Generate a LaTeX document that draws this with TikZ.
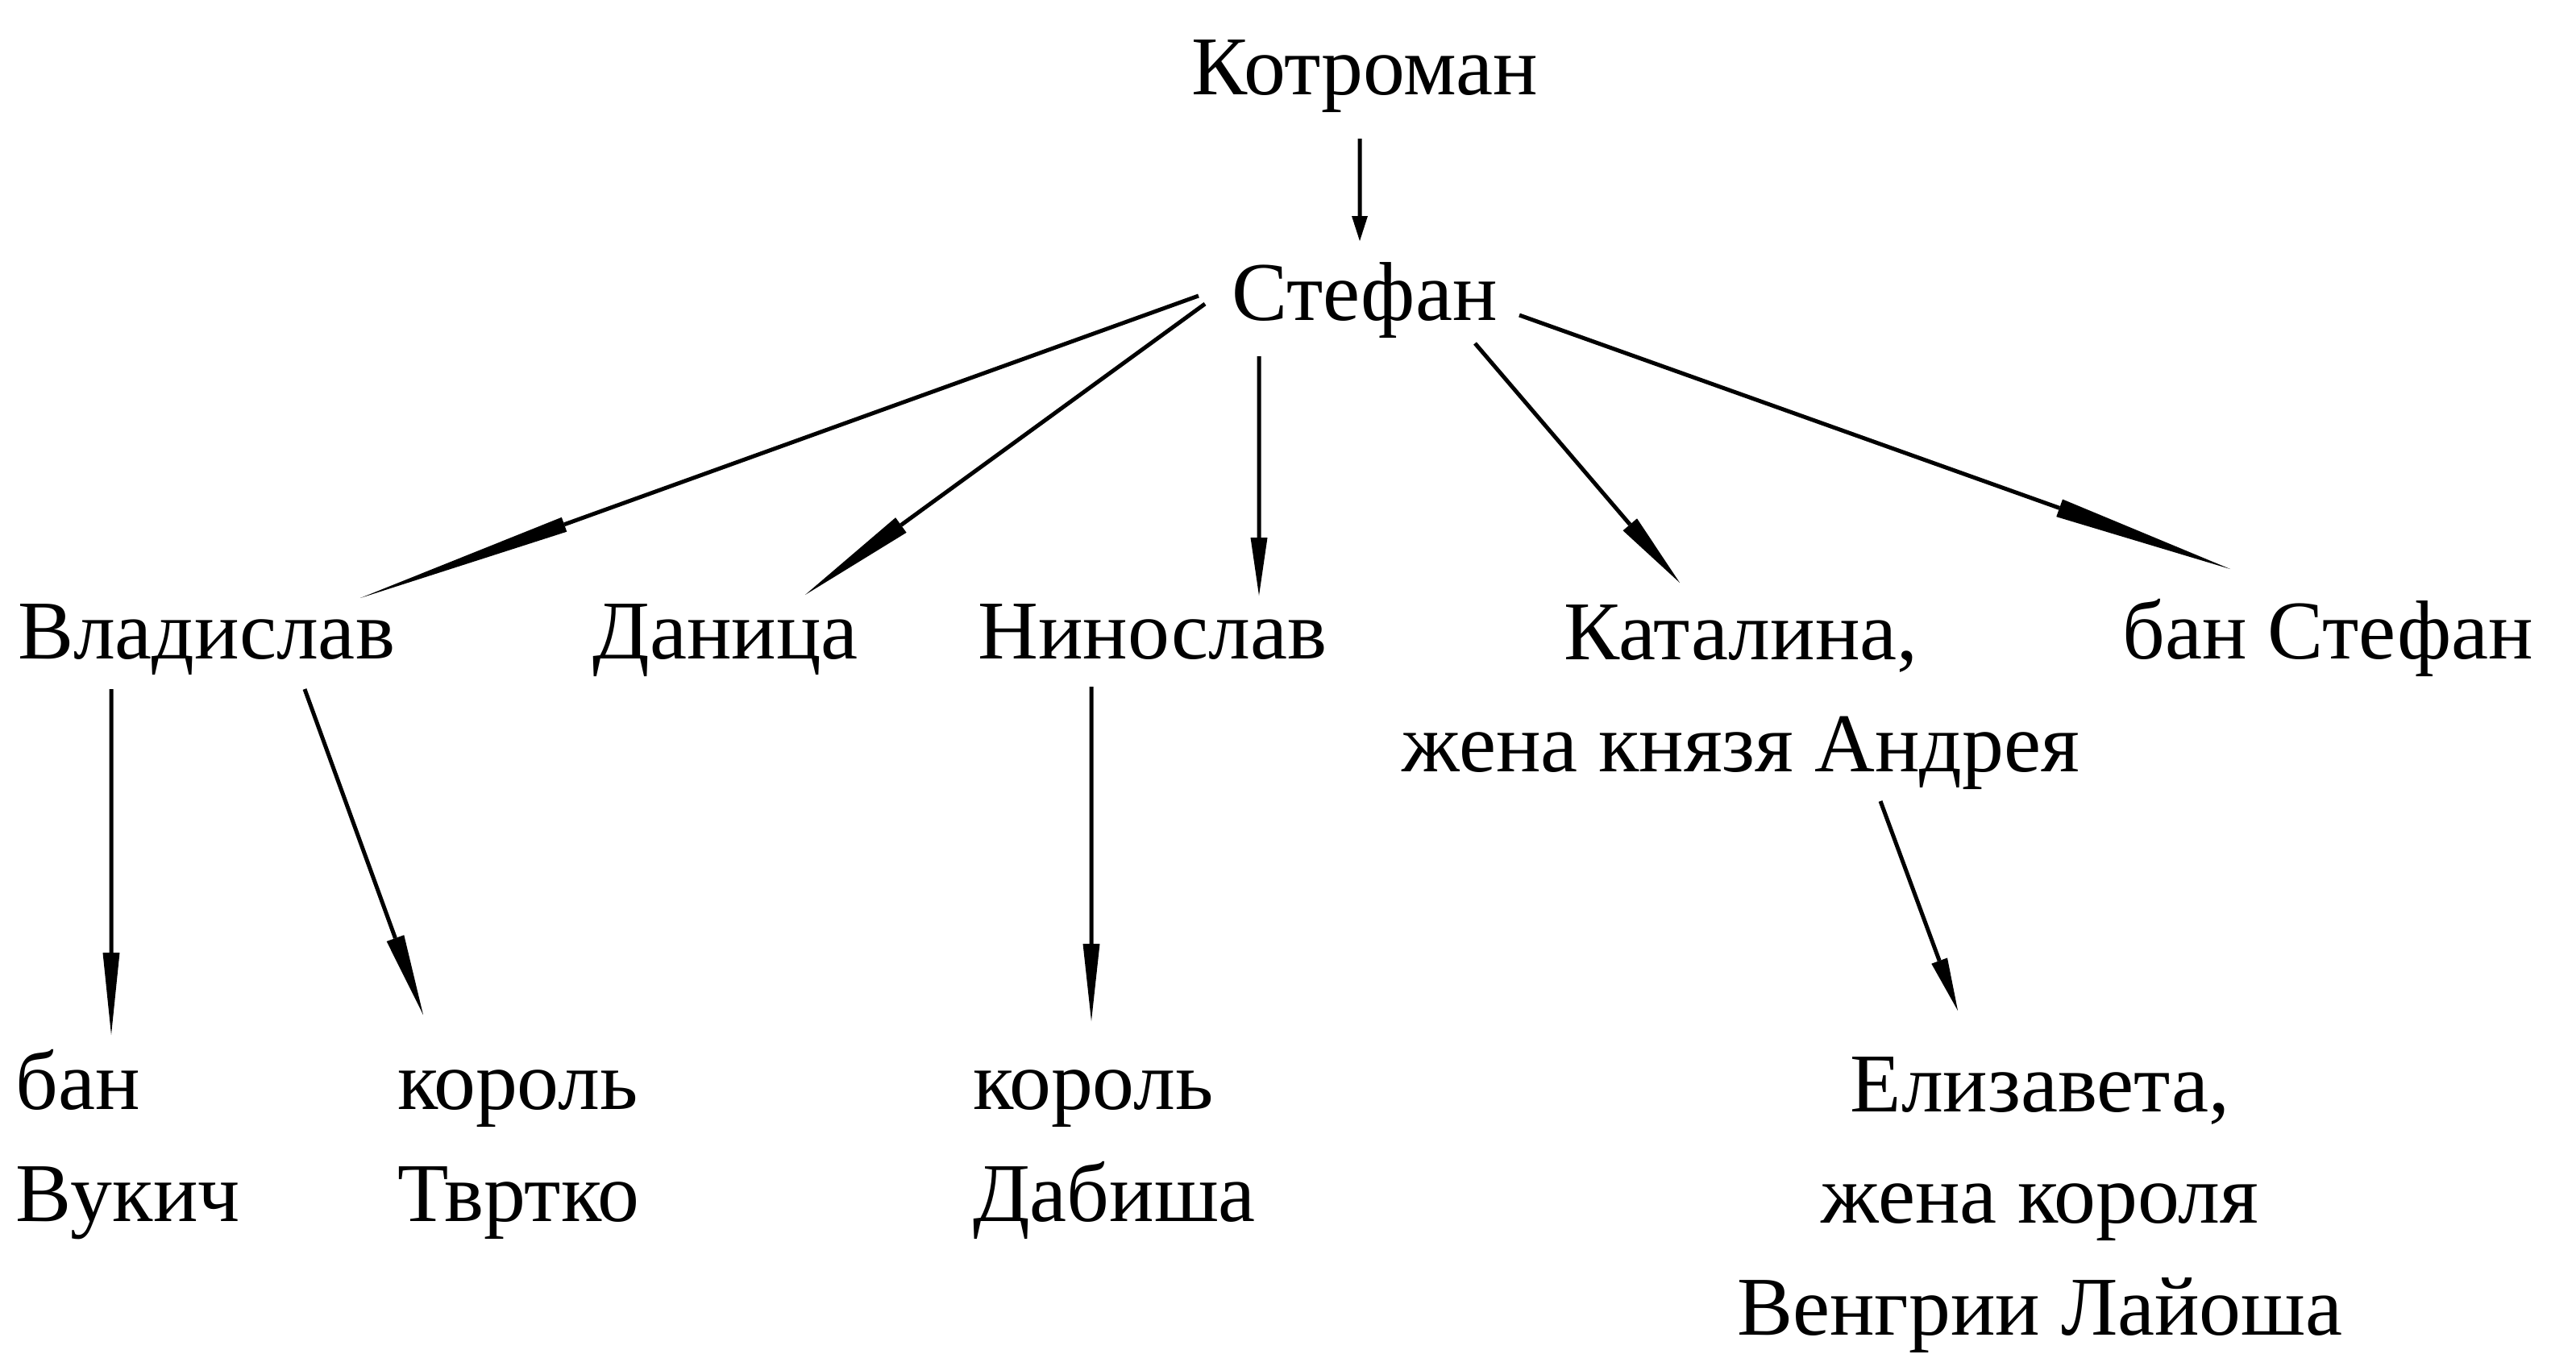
\documentclass[tikz,border=0pt]{standalone}
\usepackage{fontspec}
\setmainfont{Liberation Serif}
\usetikzlibrary{arrows.meta,calc}
\tikzset{
  lbl/.style={inner sep=0pt, outer sep=0pt, font=\fontsize{29.5pt}{39.3pt}\selectfont},
  conn/.style={line width=0.05cm},
}
\begin{document}
\begin{tikzpicture}
\useasboundingbox (0,0) rectangle (31.96,-16.79);
% single-line nodes: base = baseline; multi-line nodes: base = baseline of last line
\node[lbl, anchor=base] (kot) at (16.935,-1.17) {Котроман};
\node[lbl, anchor=base] (stef) at (16.93,-3.97) {Стефан};
\node[lbl, anchor=base] (vlad) at (2.56,-8.17) {Владислав};
\node[lbl, anchor=base] (dan) at (9.00,-8.17) {Даница};
\node[lbl, anchor=base] (nin) at (14.30,-8.17) {Нинослав};
\node[lbl, anchor=base, align=center] (kat) at (21.60,-9.57) {Каталина,\\жена князя Андрея};
\node[lbl, anchor=base] (bst) at (28.88,-8.17) {бан Стефан};
\node[lbl, anchor=base west, align=left] (ban) at (0.20,-15.15) {бан\\Вукич};
\node[lbl, anchor=base west, align=left] (tvr) at (4.93,-15.15) {король\\Твртко};
\node[lbl, anchor=base west, align=left] (dab) at (12.07,-15.15) {король\\Дабиша};
\node[lbl, anchor=base, align=center] (eli) at (25.31,-16.56) {Елизавета,\\жена короля\\Венгрии Лайоша};

\draw[conn, -{Triangle[length=0.31cm, width=0.20cm, line width=0pt]}] ($(kot.base)+(-0.065,-0.55)$) -- ($(stef.base)+(-0.06,0.98)$);
\draw[conn, -{Triangle[length=2.69cm, width=0.19cm, line width=0pt]}] ($(stef.base)+(-2.06,0.30)$) -- ($(vlad.base)+(1.91,0.75)$);
\draw[conn, -{Triangle[length=1.47cm, width=0.23cm, line width=0pt]}] ($(stef.base)+(-1.98,0.20)$) -- ($(dan.base)+(0.99,0.79)$);
\draw[conn, -{Triangle[length=0.72cm, width=0.21cm, line width=0pt]}] ($(stef.base)+(-1.31,-0.45)$) -- ($(nin.base)+(1.32,0.78)$);
\draw[conn, -{Triangle[length=0.95cm, width=0.23cm, line width=0pt]}] ($(stef.base)+(1.37,-0.29)$) -- ($(kat.base)+(-0.76,2.34)$);
\draw[conn, -{Triangle[length=2.25cm, width=0.23cm, line width=0pt]}] ($(stef.base)+(1.92,0.06)$) -- ($(bst.base)+(-1.21,1.11)$);
\draw[conn, -{Triangle[length=1.02cm, width=0.21cm, line width=0pt]}] ($(vlad.base)+(-1.18,-0.38)$) -- ($(ban.base west)+(1.18,2.31)$);
\draw[conn, -{Triangle[length=1.01cm, width=0.23cm, line width=0pt]}] ($(vlad.base)+(1.22,-0.38)$) -- ($(tvr.base west)+(0.32,2.56)$);
\draw[conn, -{Triangle[length=0.96cm, width=0.21cm, line width=0pt]}] ($(nin.base)+(-0.76,-0.35)$) -- ($(dab.base west)+(1.47,2.48)$);
\draw[conn, -{Triangle[length=0.66cm, width=0.21cm, line width=0pt]}] ($(kat.base)+(1.73,-0.37)$) -- ($(eli.base)+(-1.02,4.02)$);
\end{tikzpicture}
\end{document}
